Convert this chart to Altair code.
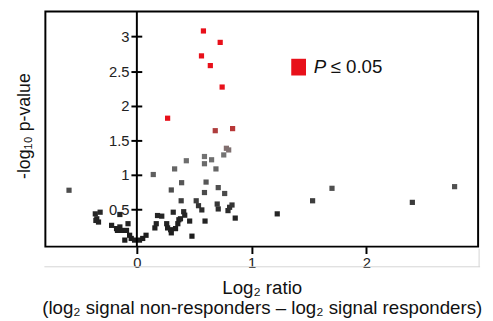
import altair as alt
import pandas as pd

# Log2 ratio (x) and -log10 p-value (y)
log2_ratio = [
    # significant (red)
    0.58, 0.726, 0.563, 0.64, 0.743, 0.268, 0.683, 0.834,
    # near-threshold / upper grey
    0.78, 0.80, 0.757, 0.589, 0.651, 0.431, 0.589, 0.329, 0.689, 0.143,
    0.603, 0.39, 0.709, 0.30, 0.589, 0.765,
    # far points
    -0.591, 1.70, 2.768, 1.531, 2.40, 1.223,
    # middle dark cluster
    0.386, 0.517, 0.537, 0.566, 0.70, 0.709, 0.794, 0.808, 0.829, 0.857,
    0.18, 0.217, 0.157, 0.169, 0.317, 0.408, 0.417, 0.26, 0.268, 0.30,
    0.294, 0.337, 0.357, 0.366, 0.38, 0.46, 0.594, 0.48,
    # left cluster
    -0.362, -0.32, -0.349, -0.334, -0.357, -0.148, -0.22, -0.177, -0.148,
    -0.134, -0.169, -0.077, -0.105, -0.063, -0.049, -0.02, 0.023, 0.051,
    0.08, -0.09,
]
neg_log10_p = [
    3.08, 2.915, 2.72, 2.58, 2.27, 1.82, 1.64, 1.67,
    1.386, 1.362, 1.29, 1.267, 1.22, 1.206, 1.163, 1.088, 1.088, 1.007,
    0.898, 0.889, 0.818, 0.784, 0.747, 0.733,
    0.78, 0.808, 0.832, 0.628, 0.605, 0.439,
    0.628, 0.628, 0.557, 0.496, 0.581, 0.51, 0.486, 0.534, 0.567, 0.378,
    0.415, 0.406, 0.236, 0.297, 0.463, 0.47, 0.42, 0.297, 0.236, 0.165,
    0.21, 0.226, 0.297, 0.354, 0.368, 0.335, 0.335, 0.117,
    0.439, 0.463, 0.368, 0.321, 0.344, 0.43, 0.273, 0.226, 0.25,
    0.2, 0.2, 0.297, 0.06, 0.13, 0.084, 0.06, 0.06, 0.084,
    0.13, 0.2,
]

x_ticks = [0, 1, 2]
y_ticks = [0.5, 1, 1.5, 2, 2.5, 3]
x_title = ["Log\u2082 ratio",
           "(log\u2082 signal non-responders \u2013 log\u2082 signal responders)"]
y_title = "-log\u2081\u2080 p-value"
legend_label_italic = "P"
legend_label_rest = "\u2264 0.05"

color_stops = [0, 0.45, 0.7, 1.1, 1.3, 1.45, 1.65, 1.8]
color_range = ["#1a1a1a", "#262626", "#474747", "#676767", "#747474",
               "#8c6a6a", "#b03a3a", "#e8101a"]

df = pd.DataFrame({"x": log2_ratio, "y": neg_log10_p})
one = alt.Data(values=[{}])

FONT = "Liberation Sans"
W, H = 440, 239

xscale = alt.Scale(domain=[-0.797, 2.973], nice=False, zero=False)
yscale = alt.Scale(domain=[-0.034, 3.36], nice=False, zero=False)

points = alt.Chart(df).mark_square(size=28, opacity=1).encode(
    x=alt.X("x:Q", scale=xscale, axis=alt.Axis(
        values=x_ticks, format="~g", title=x_title, domain=False, grid=False,
        tickSize=7, tickWidth=2, tickColor="black",
        labelFont=FONT, labelFontSize=15, labelColor="#222", labelPadding=2,
        titleFont=FONT, titleFontSize=19, titleFontWeight="normal",
        titleColor="#111", titlePadding=9, titleLineHeight=20)),
    y=alt.Y("y:Q", scale=yscale, axis=alt.Axis(
        values=y_ticks, format="~g", title=y_title, domain=False, grid=False,
        offset=-98, tickSize=11, tickWidth=2, tickColor="black",
        labelFont=FONT, labelFontSize=15, labelColor="#222", labelPadding=2,
        titleFont=FONT, titleFontSize=18, titleFontWeight="normal",
        titleColor="#111", titleAngle=270, titleX=-119, titleY=116,
        titleAlign="center", titleBaseline="middle")),
    color=alt.Color("y:Q", scale=alt.Scale(type="linear", domain=color_stops,
                                           range=color_range, clamp=True),
                    legend=None),
)

y_axis_line = alt.Chart(one).mark_rule(color="black", strokeWidth=2).encode(
    x=alt.datum(0)
)

gray_h = alt.Chart(one).mark_rule(color="#d4d4d4", strokeWidth=1).encode(
    x=alt.value(-1), x2=alt.value(442), y=alt.value(259.5)
)
gray_v = alt.Chart(one).mark_rule(color="#d4d4d4", strokeWidth=1).encode(
    x=alt.value(441), y=alt.value(241), y2=alt.value(259.5)
)

legend_box = alt.Chart(one).mark_rect(color="#e8101a").encode(
    x=alt.value(250), x2=alt.value(265), y=alt.value(48), y2=alt.value(65)
)
legend_p = alt.Chart(one).mark_text(
    text=legend_label_italic, font=FONT, fontSize=19, fontStyle="italic",
    align="left", baseline="alphabetic", color="#111"
).encode(x=alt.value(273), y=alt.value(62))
legend_rest = alt.Chart(one).mark_text(
    text=legend_label_rest, font=FONT, fontSize=19,
    align="left", baseline="alphabetic", color="#111"
).encode(x=alt.value(290), y=alt.value(62))

chart = alt.layer(
    gray_h, gray_v, points, y_axis_line, legend_box, legend_p, legend_rest
).properties(
    width=W, height=H,
    padding={"left": 38, "top": 1, "right": 7, "bottom": 73},
    autosize=alt.AutoSizeParams(type="none"),
).configure_view(stroke="black", strokeWidth=2)

chart.save("out.html", embed_options={"renderer": "svg", "actions": False})
